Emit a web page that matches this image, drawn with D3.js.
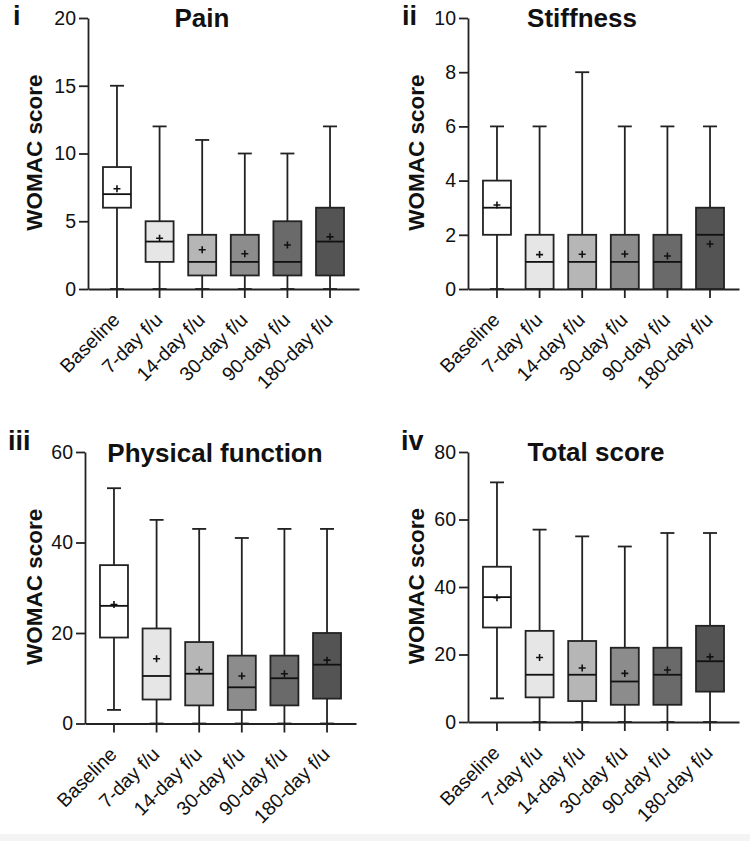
<!DOCTYPE html>
<html>
<head>
<meta charset="utf-8">
<script src="https://cdn.jsdelivr.net/npm/d3@7"></script>
<style>
  body { margin: 0; background: #fff; }
  svg { display: block; font-family: Arial, "Liberation Sans", sans-serif; }
</style>
</head>
<body>
<div id="chart"></div>
<script>
const width = 750;
const height = 841;

const categories = ["Baseline", "7-day f/u", "14-day f/u", "30-day f/u", "90-day f/u", "180-day f/u"];
const fills = ["#ffffff", "#e6e6e6", "#b6b6b6", "#8c8c8c", "#6a6a6a", "#545454"];

// each row: [min, q1, median, q3, max, mean]
const painStats = [
  [0, 6, 7, 9, 15, 7.4],
  [0, 2, 3.5, 5, 12, 3.75],
  [0, 1, 2, 4, 11, 2.9],
  [0, 1, 2, 4, 10, 2.6],
  [0, 1, 2, 5, 10, 3.25],
  [0, 1, 3.5, 6, 12, 3.85]
];
const stiffnessStats = [
  [0, 2, 3, 4, 6, 3.1],
  [0, 0, 1, 2, 6, 1.27],
  [0, 0, 1, 2, 8, 1.28],
  [0, 0, 1, 2, 6, 1.29],
  [0, 0, 1, 2, 6, 1.22],
  [0, 0, 2, 3, 6, 1.66]
];
const physicalStats = [
  [3, 19, 26, 35, 52, 26.3],
  [0, 5.3, 10.5, 21, 45, 14.3],
  [0, 4, 11, 18, 43, 11.9],
  [0, 3, 8, 15, 41, 10.5],
  [0, 4, 10, 15, 43, 11],
  [0, 5.5, 13, 20, 43, 14]
];
const totalStats = [
  [7, 28, 37, 46, 71, 36.8],
  [0, 7.3, 14, 27, 57, 19.1],
  [0, 6.2, 14, 24, 55, 16],
  [0, 5.1, 12, 22, 52, 14.4],
  [0, 5.1, 14, 22, 56, 15.4],
  [0, 9, 18, 28.5, 56, 19.3]
];

const painTicks = [0, 5, 10, 15, 20];
const stiffnessTicks = [0, 2, 4, 6, 8, 10];
const physicalTicks = [0, 20, 40, 60];
const totalTicks = [0, 20, 40, 60, 80];

const panels = [
  { tag: "i", title: "Pain", stats: painStats, ticks: painTicks,
    left: 88, top: 18, bottom: 289, tagX: 13, tagY: 25, titleX: 202, titleY: 27, labelX: 42 },
  { tag: "ii", title: "Stiffness", stats: stiffnessStats, ticks: stiffnessTicks,
    left: 468, top: 18, bottom: 289, tagX: 402, tagY: 25, titleX: 582, titleY: 27, labelX: 424 },
  { tag: "iii", title: "Physical function", stats: physicalStats, ticks: physicalTicks,
    left: 85, top: 452, bottom: 723.5, tagX: 8, tagY: 450, titleX: 215, titleY: 462, labelX: 42 },
  { tag: "iv", title: "Total score", stats: totalStats, ticks: totalTicks,
    left: 468, top: 452, bottom: 722, tagX: 401, tagY: 450, titleX: 596, titleY: 461, labelX: 424 }
];

const ink = "#222";
const sw = 1.8;

const svg = d3.select("#chart").append("svg")
  .attr("width", width)
  .attr("height", height);

svg.append("rect")
  .attr("x", 0).attr("y", 834)
  .attr("width", width).attr("height", height - 834)
  .attr("fill", "#f4f4f4");

panels.forEach(p => {
  const g = svg.append("g");

  const x = d3.scaleBand()
    .domain(categories)
    .range([p.left, p.left + 271])
    .paddingInner(0)
    .paddingOuter(0.18);

  const y = d3.scaleLinear()
    .domain([0, d3.max(p.ticks)])
    .range([p.bottom, p.top]);

  const boxW = 28;
  const capW = 14;

  // boxes
  const box = g.append("g")
    .selectAll("g")
    .data(p.stats)
    .enter().append("g")
    .attr("transform", (d, i) => `translate(${x(categories[i]) + x.bandwidth() / 2},0)`);

  // whiskers
  box.append("line")
    .attr("y1", d => y(d[0])).attr("y2", d => y(d[1]))
    .attr("stroke", ink).attr("stroke-width", sw);
  box.append("line")
    .attr("y1", d => y(d[3])).attr("y2", d => y(d[4]))
    .attr("stroke", ink).attr("stroke-width", sw);
  box.append("line")
    .attr("x1", -capW / 2).attr("x2", capW / 2)
    .attr("y1", d => y(d[4])).attr("y2", d => y(d[4]))
    .attr("stroke", ink).attr("stroke-width", sw);
  box.append("line")
    .attr("x1", -capW / 2).attr("x2", capW / 2)
    .attr("y1", d => y(d[0])).attr("y2", d => y(d[0]))
    .attr("stroke", ink).attr("stroke-width", sw);

  box.append("rect")
    .attr("x", -boxW / 2)
    .attr("width", boxW)
    .attr("y", d => y(d[3]))
    .attr("height", d => y(d[1]) - y(d[3]))
    .attr("fill", (d, i) => fills[i])
    .attr("stroke", ink)
    .attr("stroke-width", sw);

  // median
  box.append("line")
    .attr("x1", -boxW / 2).attr("x2", boxW / 2)
    .attr("y1", d => y(d[2])).attr("y2", d => y(d[2]))
    .attr("stroke", "#111").attr("stroke-width", sw);

  // mean
  box.append("path")
    .attr("d", d => `M-3.5,${y(d[5])}H3.5M0,${y(d[5]) - 3.5}V${y(d[5]) + 3.5}`)
    .attr("stroke", "#111").attr("stroke-width", 1.6);

  // y axis
  const yAxis = g.append("g")
    .attr("transform", `translate(${p.left},0)`)
    .call(d3.axisLeft(y).tickValues(p.ticks).tickSize(9).tickSizeOuter(0).tickPadding(3));
  yAxis.selectAll("path, line").attr("stroke", ink).attr("stroke-width", sw);
  yAxis.selectAll("text")
    .attr("fill", "#111")
    .style("font-size", "19.5px")
    .style("font-family", "Arial, 'Liberation Sans', sans-serif");

  // x axis
  const xAxis = g.append("g")
    .attr("transform", `translate(0,${p.bottom})`)
    .call(d3.axisBottom(x).tickSize(9).tickSizeOuter(0));
  xAxis.selectAll("path, line").attr("stroke", ink).attr("stroke-width", sw);
  xAxis.selectAll("text")
    .attr("x", 0).attr("y", 0).attr("dy", 0)
    .attr("transform", "translate(4,32) rotate(-45)")
    .attr("fill", "#111")
    .style("text-anchor", "end")
    .style("font-size", "19.5px")
    .style("font-family", "Arial, 'Liberation Sans', sans-serif");

  // y label
  g.append("text")
    .attr("transform", `translate(${p.labelX},${(p.top + p.bottom) / 2 - 1}) rotate(-90)`)
    .attr("text-anchor", "middle")
    .attr("font-weight", "bold")
    .attr("font-size", 22.5)
    .attr("fill", "#111")
    .text("WOMAC score");

  // title
  g.append("text")
    .attr("x", p.titleX).attr("y", p.titleY)
    .attr("text-anchor", "middle")
    .attr("font-weight", "bold")
    .attr("font-size", 26)
    .attr("fill", "#111")
    .text(p.title);

  // panel tag
  g.append("text")
    .attr("x", p.tagX).attr("y", p.tagY)
    .attr("font-weight", "bold")
    .attr("font-size", 27)
    .attr("fill", "#111")
    .text(p.tag);
});
</script>
</body>
</html>
